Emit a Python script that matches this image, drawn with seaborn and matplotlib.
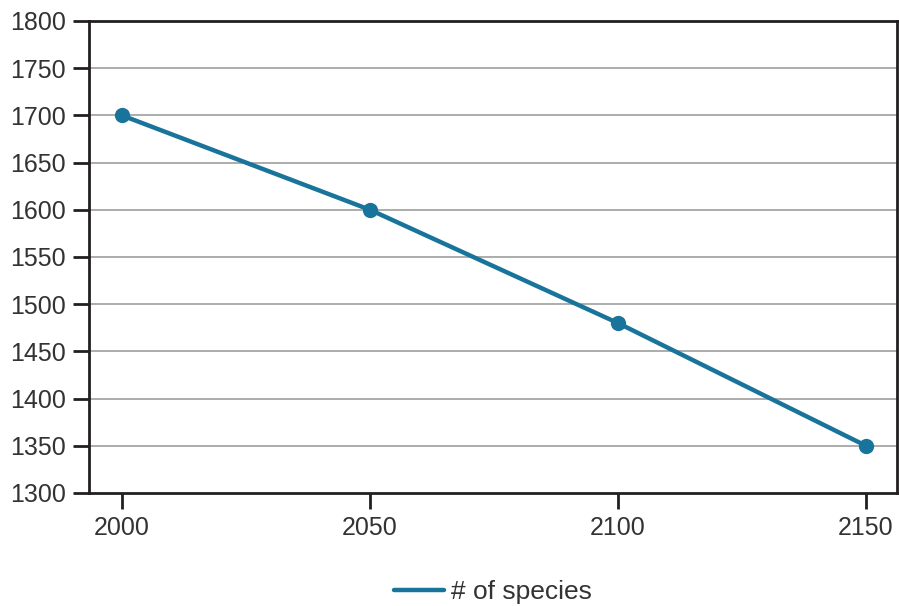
import matplotlib
matplotlib.use("Agg")
import matplotlib.pyplot as plt
import seaborn as sns
import pandas as pd

years = [2000, 2050, 2100, 2150]
species = [1700, 1600, 1480, 1350]
series_name = "# of species"
y_ticks = [1300, 1350, 1400, 1450, 1500, 1550, 1600, 1650, 1700, 1750, 1800]

df = pd.DataFrame({"year": years, "count": species, "series": series_name})

sns.set_theme(style="white")
plt.rcParams["font.family"] = ["Liberation Sans", "DejaVu Sans"]

line_color = "#18749a"
text_color = "#333333"

fig = plt.figure(figsize=(8.99, 6.06), dpi=100)
ax = fig.add_axes([89 / 899, 1 - 493 / 606, (897 - 89) / 899, (493 - 21) / 606])

sns.lineplot(data=df, x="year", y="count", hue="series", palette=[line_color],
             marker="o", markersize=11, markeredgewidth=0, linewidth=3.2, ax=ax)

ax.set_xlim(1993.35, 2156.25)
ax.set_ylim(1300, 1800)
ax.set_xticks(years)
ax.set_yticks(y_ticks)
ax.set_xlabel("")
ax.set_ylabel("")

# light horizontal guides at every interior tick
for v in y_ticks[1:-1]:
    ax.axhline(v, color="#a6a6a6", linewidth=1.3, zorder=0)

for s in ax.spines.values():
    s.set_visible(True)
    s.set_color("#231f20")
    s.set_linewidth(2)

ax.tick_params(axis="both", which="both", direction="out", length=11.5, width=2,
               color="#231f20", labelcolor=text_color, labelsize=18, pad=5,
               left=True, bottom=True)

handles, labels = ax.get_legend_handles_labels()
for h in handles:
    h.set_marker("")
ax.legend(handles, labels, loc="center", bbox_to_anchor=(0.5, (493 - 592) / (493 - 21)),
          frameon=False, fontsize=19, handlelength=1.9, handletextpad=0.25,
          labelcolor=text_color)

fig.savefig("out.png", dpi=100)
